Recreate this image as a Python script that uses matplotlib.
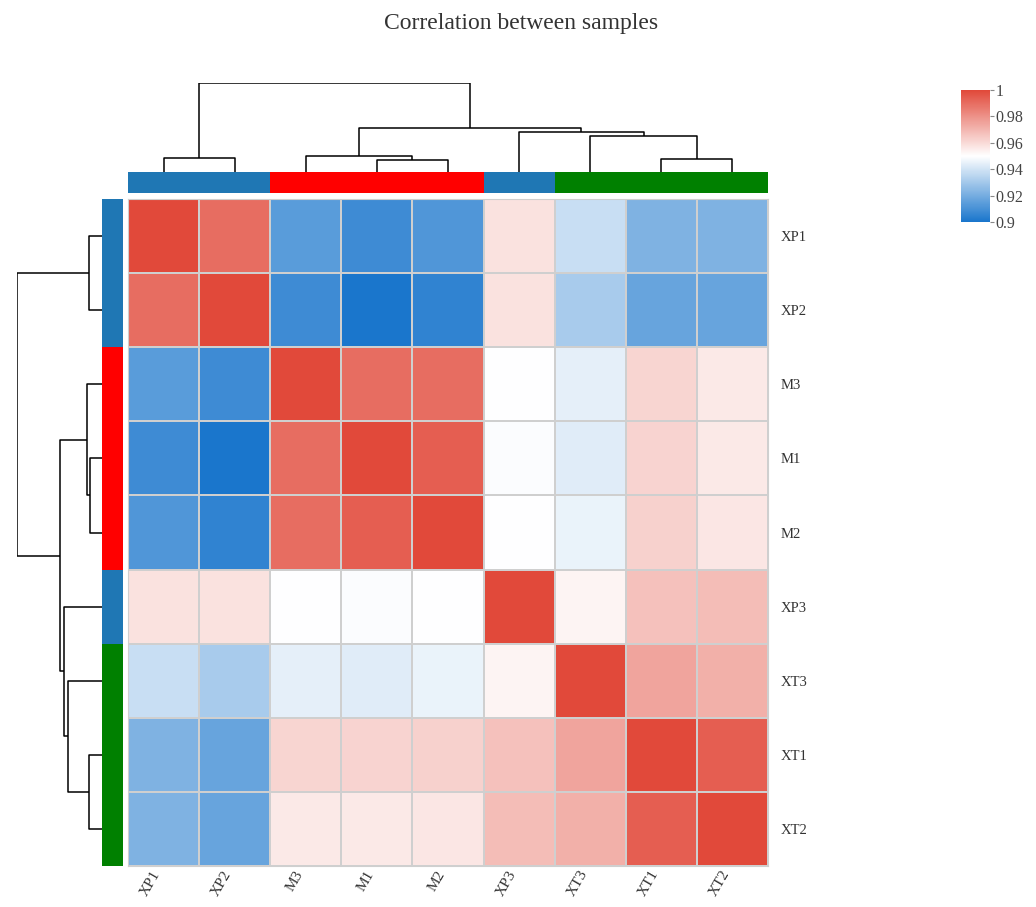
import numpy as np
import matplotlib
matplotlib.use("Agg")
import matplotlib.pyplot as plt
import matplotlib.transforms as mtransforms
from matplotlib.colors import LinearSegmentedColormap

plt.rcParams['font.family'] = ['Liberation Serif', 'DejaVu Serif']

samples = ["XP1", "XP2", "M3", "M1", "M2", "XP3", "XT3", "XT1", "XT2"]
group_colors = ["#1f77b4", "#1f77b4", "#ff0000", "#ff0000", "#ff0000",
                "#1f77b4", "#008000", "#008000", "#008000"]

# upper triangle of the correlation matrix, row by row (display order)
upper = [
    [1.000, 0.990, 0.914, 0.908, 0.912, 0.958, 0.938, 0.922, 0.922],
    [None, 1.000, 0.908, 0.900, 0.905, 0.958, 0.931, 0.917, 0.917],
    [None, None, 1.000, 0.990, 0.990, 0.950, 0.9445, 0.9615, 0.956],
    [None, None, None, 1.000, 0.994, 0.949, 0.943, 0.962, 0.956],
    [None, None, None, None, 1.000, 0.950, 0.9455, 0.9625, 0.957],
    [None, None, None, None, None, 1.000, 0.953, 0.967, 0.968],
    [None, None, None, None, None, None, 1.000, 0.975, 0.9715],
    [None, None, None, None, None, None, None, 1.000, 0.994],
    [None, None, None, None, None, None, None, None, 1.000],
]

# hierarchical merges: (child a, child b, height); leaves 0..8, new nodes 9..
merges = [
    (0, 1, 42),
    (3, 4, 37),
    (2, 10, 47),
    (7, 8, 40),
    (6, 12, 107),
    (5, 13, 119),
    (11, 14, 132),
    (9, 15, 265),
]

n = len(samples)
corr = np.ones((n, n))
for i in range(n):
    for j in range(i, n):
        corr[i, j] = upper[i][j]
        corr[j, i] = upper[i][j]

cmap = LinearSegmentedColormap.from_list(
    "bwr_corr", [(0.0, "#1a76cc"), (0.5, "#ffffff"), (1.0, "#e1493a")])

W, H = 1036, 907
fig = plt.figure(figsize=(W / 100, H / 100), dpi=100)


def box(x0, y0, x1, y1):
    return [x0 / W, 1 - y1 / H, (x1 - x0) / W, (y1 - y0) / H]


def dendro_segments(merges, n):
    pos = {i: i + 0.5 for i in range(n)}
    hgt = {i: 0.0 for i in range(n)}
    segs = []
    for k, (a, b, h) in enumerate(merges):
        segs.append(([pos[a], pos[a], pos[b], pos[b]], [hgt[a], h, h, hgt[b]]))
        pos[n + k] = (pos[a] + pos[b]) / 2
        hgt[n + k] = h
    return segs


segs = dendro_segments(merges, n)
top_h = merges[-1][2]

# heatmap
ax = fig.add_axes(box(128, 199, 768, 866))
mesh = ax.pcolormesh(np.arange(n + 1), np.arange(n + 1), corr, cmap=cmap,
                     vmin=0.9, vmax=1.0, edgecolors="#cfcfcf", linewidth=1.3)
ax.set_xlim(0, n)
ax.set_ylim(n, 0)
ax.set_xticks(np.arange(n) + 0.5)
ax.set_xticklabels(samples, rotation=60, ha="right", va="center",
                   rotation_mode="anchor", fontsize=11, color="#333333")
ax.set_yticks(np.arange(n) + 0.5)
ax.set_yticklabels(samples, fontsize=10.5, color="#333333")
ax.yaxis.tick_right()
ax.tick_params(axis="y", length=0, pad=9)
ax.tick_params(axis="x", length=0, pad=4)
shift = mtransforms.ScaledTranslation(-0.06, 0, fig.dpi_scale_trans)
for lab in ax.get_xticklabels():
    lab.set_transform(lab.get_transform() + shift)
for s in ax.spines.values():
    s.set_color("#cfcfcf")

# top group bar
axc = fig.add_axes(box(128, 172, 768, 193))
for i, c in enumerate(group_colors):
    axc.axvspan(i, i + 1, color=c, lw=0)
axc.set_xlim(0, n)
axc.axis("off")

# left group bar
axr = fig.add_axes(box(102, 199, 123, 866))
for i, c in enumerate(group_colors):
    axr.axhspan(i, i + 1, color=c, lw=0)
axr.set_ylim(n, 0)
axr.axis("off")

# top dendrogram
axt = fig.add_axes(box(128, 83, 768, 172))
for xs, ys in segs:
    axt.plot(xs, ys, color="black", lw=1.1, solid_capstyle="butt")
axt.set_xlim(0, n)
axt.set_ylim(0, top_h)
axt.axis("off")

# left dendrogram
axl = fig.add_axes(box(17, 199, 102, 866))
for xs, ys in segs:
    axl.plot(ys, xs, color="black", lw=1.1, solid_capstyle="butt")
axl.set_ylim(n, 0)
axl.set_xlim(top_h, 0)
axl.axis("off")

# colorbar
cax = fig.add_axes(box(961, 90, 990, 222))
cb = fig.colorbar(mesh, cax=cax)
ticks = [0.9, 0.92, 0.94, 0.96, 0.98, 1.0]
cb.set_ticks(ticks)
cb.set_ticklabels(["0.9", "0.92", "0.94", "0.96", "0.98", "1"])
cb.outline.set_visible(False)
cax.tick_params(length=3, width=0.8, color="#888888", labelsize=11.5,
                labelcolor="#444444", pad=1)

fig.text(0.503, 1 - 24 / H, "Correlation between samples", ha="center",
         va="center", fontsize=17, color="#333333")

fig.savefig("out.png", dpi=100)
